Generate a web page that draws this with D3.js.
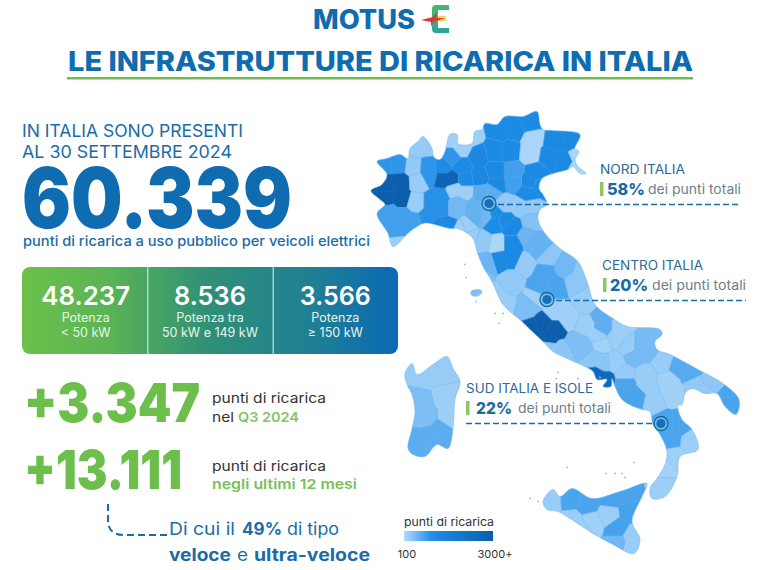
<![CDATA[<!DOCTYPE html>
<html lang="it"><head><meta charset="utf-8">
<script src="https://cdn.jsdelivr.net/npm/d3@7"></script>
<style>html,body{margin:0;padding:0;background:#fff;overflow:hidden}svg{display:block}text{font-family:Inter,"Open Sans",sans-serif}</style>
</head><body><div id="chart"></div><script>
// ---------- values read from the picture ----------
const title = "LE INFRASTRUTTURE DI RICARICA IN ITALIA";
const totalPoints = "60.339";
const powerValues = ["48.237","8.536","3.566"];
const powerLine1 = ["Potenza","Potenza tra","Potenza"];
const powerLine2 = ["< 50 kW","50 kW e 149 kW","≥ 150 kW"];
const growthValues = ["+3.347","+13.111"];
const areaNames = ["NORD ITALIA","CENTRO ITALIA","SUD ITALIA E ISOLE"];
const areaShares = ["58%","20%","22%"];
const legendTicks = [100,3000];

// map outlines, in map-grid units read off the picture
const mainlandOutline = [[393,245],[388,232],[377,212],[385,203],[380,198],[371,189],[382,183],[387,173],[377,160],[387,157],[400,153],[408,157],[410,147],[418,140],[423,135],[432,147],[434,156],[440,158],[445,150],[450,133],[457,133],[458,142],[472,142],[475,130],[482,128],[485,122],[497,123],[505,115],[523,115],[537,110],[540,123],[543,128],[552,129],[580,133],[575,147],[579,150],[575,158],[578,165],[586,172],[580,172],[573,165],[568,168],[553,172],[542,177],[539,187],[543,193],[547,203],[540,208],[538,218],[545,232],[560,247],[578,260],[587,280],[595,303],[613,317],[627,325],[660,328],[662,333],[655,340],[657,348],[670,353],[698,368],[723,382],[739,398],[736,413],[725,405],[717,392],[705,392],[692,387],[685,392],[682,403],[678,404],[682,418],[692,428],[698,448],[680,455],[677,475],[665,495],[652,497],[650,487],[657,477],[665,463],[667,450],[660,433],[653,423],[650,410],[642,408],[623,399],[615,385],[612,377],[611,385],[603,385],[607,378],[597,378],[593,370],[585,365],[567,357],[553,350],[543,340],[530,328],[522,320],[503,303],[492,280],[483,265],[477,250],[473,237],[458,227],[450,227],[430,222],[423,222],[410,230]];
const sardiniaOutline = [[407,383],[405,372],[412,362],[417,373],[433,363],[447,355],[453,367],[460,380],[455,398],[453,427],[448,447],[437,443],[425,455],[413,453],[408,447],[412,427],[415,410],[412,393]];
const sicilyOutline = [[543,500],[553,488],[560,495],[572,487],[592,497],[620,490],[647,482],[643,493],[632,520],[640,538],[634,552],[613,543],[593,532],[570,517],[558,510],[547,508]];
const elbaOutline = [[471,290],[478,288],[482,290],[479,294],[472,294]];
const smallIslands = [[465,263],[466,276],[476,300],[495,312],[503,312],[499,322],[495,283],[558,371],[556,377],[578,377],[600,376],[530,497],[538,500],[567,466],[606,472],[615,472],[622,472],[625,476],[634,461]];

const provinceNames = ["Aosta","Torino","Biella","VCO","Vercelli","Asti","Cuneo","Alessandria","Savona","Imperia","Genova","La Spezia",
 "Varese","Como","Lecco","Milano","Sondrio","Bergamo","Brescia","Cremona","Piacenza","Parma","Reggio Emilia","Mantova","Modena","Bologna","Ferrara","Ravenna","Forli",
 "Bolzano","Trento","Belluno","Udine","Trieste","Treviso","Vicenza","Verona","Padova",
 "Massa","Lucca","Pistoia","Prato","Firenze","Pisa","Livorno","Siena","Arezzo","Grosseto",
 "Pesaro","Ancona","Macerata","Ascoli","Perugia","Terni","Viterbo","Rieti","Roma","Latina","Frosinone",
 "Teramo","L'Aquila","Pescara","Chieti","Isernia","Campobasso","Caserta","Benevento","Napoli","Avellino","Salerno",
 "Foggia","BAT","Bari","Taranto","Brindisi","Lecce","Potenza","Matera","Cosenza","Crotone","Catanzaro","Vibo","Reggio Calabria",
 "Sassari","Nuoro","Oristano","Sud Sardegna",
 "Trapani","Palermo","Messina","Catania","Enna","Caltanissetta","Agrigento","Ragusa","Siracusa"];
const provinceValues = [900,3000,300,280,260,260,780,950,260,240,1150,230,
 900,1000,900,2700,220,1080,1220,230,480,560,500,620,1000,1150,300,380,520,
 1100,1080,170,1120,170,1120,780,1120,1100,
 230,260,300,160,1150,520,420,300,280,260,
 560,320,480,320,720,220,430,220,3000,330,420,
 260,240,600,250,200,270,330,260,2500,280,720,
 460,260,650,300,320,720,260,210,720,240,220,200,240,
 270,240,420,620,
 260,720,740,760,240,210,240,500,260];
const provinceSeeds = [
 [[385,162],[398,162]],[[385,184],[400,182],[385,196],[402,196]],[[414,164]],[[418,147],[426,146]],[[419,181]],[[416,200]],[[388,212],[402,216],[395,226],[412,222]],[[432,200],[440,195],[430,215],[445,208]],[[420,234]],[[397,245]],[[447,221],[438,224]],[[463,228]],
 [[428,165],[430,175]],[[443,165]],[[452,155]],[[442,178],[452,178]],[[452,137],[462,147],[470,135]],[[462,165],[465,178]],[[478,155],[480,175]],[[455,188],[465,191]],[[459,203],[452,208]],[[475,205],[477,215]],[[486,215]],[[492,190],[482,192]],[[494,222],[496,212]],[[512,225],[505,218]],[[520,205],[530,205],[505,203]],[[532,220]],[[527,235]],
 [[500,128],[515,128],[530,122]],[[495,150],[510,150]],[[533,137],[530,152]],[[555,140],[570,142],[550,155],[565,158]],[[578,165],[576,153]],[[535,172],[530,180]],[[513,170],[513,180]],[[495,170],[497,182]],[[528,192],[540,184]],
 [[467,226]],[[470,235]],[[483,240]],[[497,243]],[[512,243],[512,256],[500,258]],[[487,262]],[[480,275]],[[512,280]],[[525,262]],[[495,295],[505,305]],
 [[533,240],[540,248]],[[547,255]],[[565,266]],[[575,280],[582,272]],[[545,272],[540,285],[555,285]],[[535,297]],[[525,310],[530,303]],[[555,310],[568,318]],[[530,325],[543,322],[555,328],[548,337]],[[560,350],[547,345]],[[578,340],[585,345]],
 [[587,300]],[[585,325],[598,335]],[[603,315],[604,325]],[[617,335],[620,325]],[[600,342]],[[630,345]],[[595,358],[603,363]],[[615,362]],[[600,375],[605,378],[597,373]],[[625,372]],[[625,383],[638,395],[630,395]],
 [[640,345],[635,355],[648,350]],[[662,360]],[[680,366],[690,372]],[[695,383],[705,388]],[[710,382]],[[728,398],[728,405]],[[648,385],[645,373],[652,398]],[[672,390],[668,380]],[[665,425],[672,438],[680,425]],[[690,440]],[[675,455]],[[663,467]],[[662,485]],
 [[425,375],[440,372]],[[445,395],[450,415]],[[420,400],[425,415]],[[430,435],[420,440],[440,430]],
 [[552,498]],[[570,497],[588,503]],[[610,497],[630,495]],[[630,510],[618,527]],[[608,513]],[[592,520]],[[572,520],[582,527]],[[618,542]],[[632,535],[632,545]]];
const markerPoints = [[489,202],[547,298],[661,422]];

// ---------- drawing ----------
const W=760,H=570;
const blue="#0f6cb0",mid="#1b6ca6",green="#6cbf4b",gray="#6e7f8c";
const svg=d3.select("#chart").append("svg").attr("width",W).attr("height",H).attr("viewBox",`0 0 ${W} ${H}`);
const defs=svg.append("defs");
function txt(s,x,y,size,fill,weight,width,anchor){
  const t=svg.append("text").attr("x",x).attr("y",y).attr("font-size",size).attr("fill",fill).attr("font-weight",weight||400).text(s);
  if(anchor)t.attr("text-anchor",anchor);
  if(width)t.attr("textLength",width).attr("lengthAdjust","spacingAndGlyphs");
  return t;
}
// header
txt("MOTUS",313,29,27,blue,800,102);
const eg=defs.append("linearGradient").attr("id","eg").attr("x1",0).attr("x2",0).attr("y1",0).attr("y2",1);
eg.append("stop").attr("offset",0).attr("stop-color","#49b96a");eg.append("stop").attr("offset",1).attr("stop-color","#2ba39b");
svg.append("path").attr("d","M449 5H436Q432 5 432 9V29Q432 33 436 33H449V28H438V10H449Z").attr("fill","url(#eg)");
svg.append("rect").attr("x",438).attr("y",16).attr("width",8).attr("height",5).attr("fill","#e8d86a");
svg.append("path").attr("d","M421 20L433 17L437 12L436 18L445 18L433 22L431 27L431 22Z").attr("fill","#e5342b");
txt(title,68,71,27,blue,800,625);
svg.append("rect").attr("x",67).attr("y",77).attr("width",626).attr("height",2.5).attr("fill",green);

// intro
txt("IN ITALIA SONO PRESENTI",22,137,17,mid,400,221);
txt("AL 30 SETTEMBRE 2024",22,158,17,mid,400,210);
txt(totalPoints,22,228,84,blue,900,270);
txt("punti di ricarica a uso pubblico per veicoli elettrici",23,246,13.5,mid,500,347);

// power panel
const pg=defs.append("linearGradient").attr("id","pg");
[[0,"#6cc04a"],[0.22,"#5cb554"],[0.5,"#2f8f78"],[0.78,"#1e7f96"],[1,"#0a69b4"]].forEach(s=>pg.append("stop").attr("offset",s[0]).attr("stop-color",s[1]));
svg.append("rect").attr("x",22).attr("y",267).attr("width",376).attr("height",87).attr("rx",8).attr("fill","url(#pg)");
const panel=d3.scaleBand().domain(d3.range(3)).range([22,398]);
powerValues.forEach((v,i)=>{
  const cx=panel(i)+panel.bandwidth()/2+(i==0?1:0);
  txt(v,cx,305,26,"#fff",600,[89,72,71][i],"middle");
  txt(powerLine1[i],cx,322,12.5,"#e9f6ea",400,null,"middle");
  txt(powerLine2[i],cx,337,12.5,"#e9f6ea",400,null,"middle");
  if(i>0)svg.append("rect").attr("x",panel(i)).attr("y",267).attr("width",1).attr("height",87).attr("fill","#e4f2ee");
});

// growth
txt(growthValues[0],24,422,54,green,900,176);
txt("punti di ricarica",212,403,13.5,"#333",400,114);
txt("nel",212,422,13.5,"#333",400,22);
txt("Q3 2024",238,422,13.5,"#86c568",600,61);
txt(growthValues[1],24,489,54,green,900,158);
txt("punti di ricarica",212,471,13.5,"#333",400,114);
txt("negli ultimi 12 mesi",212,489,13.5,"#78bf58",600,145);
svg.append("path").attr("d","M108 504V520Q108 535 124 535H167").attr("fill","none").attr("stroke",mid).attr("stroke-width",2).attr("stroke-dasharray","7 4");
txt("Di cui il",169,535,17,mid,400,66);
txt("49%",242,535,17,mid,700,40);
txt("di tipo",287,535,17,mid,400,52);
txt("veloce",169,561,17,mid,700,62);
txt("e",237,561,17,mid,400,11);
txt("ultra-veloce",254,561,17,mid,700,116);

// map
const color=d3.scaleLinear().domain([100,500,1000,3000]).range(["#b4dbf9","#6fb7f3","#1f8de6","#0a5eac"]).clamp(true);
const poly=r=>({type:"Feature",geometry:{type:"Polygon",coordinates:[r.concat([r[0]])]}});
const rings=[mainlandOutline,sardiniaOutline,sicilyOutline,elbaOutline];
const land={type:"FeatureCollection",features:rings.map(poly)};
const projection=d3.geoIdentity().fitExtent([[371,110],[739,555]],land);
const coast=d3.line().curve(d3.curveCatmullRomClosed.alpha(.5));
const ringPath=r=>coast(r.map(projection));
defs.append("clipPath").attr("id","land").selectAll("path").data(rings).join("path").attr("d",ringPath);
defs.append("filter").attr("id","soft").attr("x","-5%").attr("y","-5%").attr("width","110%").attr("height","110%").append("feGaussianBlur").attr("stdDeviation",.35);
const seeds=[];
provinceSeeds.forEach((list,i)=>list.forEach(p=>seeds.push({p:projection(p),i})));
const del=d3.Delaunay.from(seeds,d=>d.p[0],d=>d.p[1]);
const vor=del.voronoi([0,0,W,H]);
const soft=svg.append("g").attr("filter","url(#soft)");
const mapG=soft.append("g").attr("clip-path","url(#land)");
mapG.selectAll("path.cell").data(seeds).join("path").attr("class","cell")
  .attr("d",(d,i)=>vor.renderCell(i))
  .attr("fill",d=>color(provinceValues[d.i])).attr("stroke",d=>color(provinceValues[d.i])).attr("stroke-width",.6);
const borders=d3.path();
const next=e=>e%3===2?e-2:e+1;
del.halfedges.forEach((o,e)=>{
  if(o<e)return;
  const a=seeds[del.triangles[e]],b=seeds[del.triangles[next(e)]];
  if(a.i===b.i)return;
  const t=Math.floor(e/3),u=Math.floor(o/3),c=vor.circumcenters;
  borders.moveTo(c[t*2],c[t*2+1]);borders.lineTo(c[u*2],c[u*2+1]);
});
mapG.append("path").attr("d",borders.toString()).attr("fill","none").attr("stroke","#5ea8ea").attr("stroke-width",.6).attr("stroke-opacity",.6);
soft.selectAll("path.coast").data(rings).join("path").attr("class","coast").attr("d",ringPath).attr("fill","none").attr("stroke","#78b8f0").attr("stroke-width",.6);
soft.selectAll("circle.isl").data(smallIslands).join("circle").attr("class","isl")
  .attr("cx",d=>projection(d)[0]).attr("cy",d=>projection(d)[1]).attr("r",.9).attr("fill","#8cc4f0");

// callouts
const callX=[[600,607,648,741],[603,610,652,746],[466,476,518,611]];
const callY=[174,270,393];
areaNames.forEach((n,i)=>{
  const [bx,px,tx,end]=callX[i],y=callY[i];
  txt(n,bx+(i==1?-1:0),y,12.5,"#2b6a96",400,[85,101,127][i]);
  svg.append("rect").attr("x",bx).attr("y",y+8).attr("width",3.5).attr("height",14).attr("fill","#8cc665");
  txt(areaShares[i],px,y+21,16.5,mid,800,[38,38,36][i]);
  txt("dei punti totali",tx,y+20,13,gray,400,end-tx);
  const m=projection(markerPoints[i]);
  svg.append("line").attr("x1",i==2?bx:m[0]).attr("x2",i==2?m[0]:end).attr("y1",m[1]+(i==2?0:1)).attr("y2",m[1]+(i==2?0:1))
    .attr("stroke",mid).attr("stroke-width",1.6).attr("stroke-dasharray","6 3");
  svg.append("circle").attr("cx",m[0]).attr("cy",m[1]).attr("r",7).attr("fill","#7cc0f3").attr("fill-opacity",.8).attr("stroke","#14649f").attr("stroke-width",1.3);
  svg.append("circle").attr("cx",m[0]).attr("cy",m[1]).attr("r",4.6).attr("fill","#1670b8");
});

// legend
const lg=defs.append("linearGradient").attr("id","lg");
const legendScale=d3.scaleLinear().domain([legendTicks[0],legendTicks[1]]).range([404,493]);
d3.range(0,1.01,.1).forEach(t=>{
  const v=100+t*2900;
  lg.append("stop").attr("offset",t).attr("stop-color",color(v));
});
txt("punti di ricarica",404,526,11,"#333",400,90);
svg.append("rect").attr("x",legendScale(100)).attr("y",531).attr("width",legendScale(3000)-legendScale(100)).attr("height",10).attr("fill","url(#lg)");
txt("100",407,558,11,"#333",400,null,"middle");
txt("3000+",495,558,11,"#333",400,null,"middle");
</script></body></html>]]>
